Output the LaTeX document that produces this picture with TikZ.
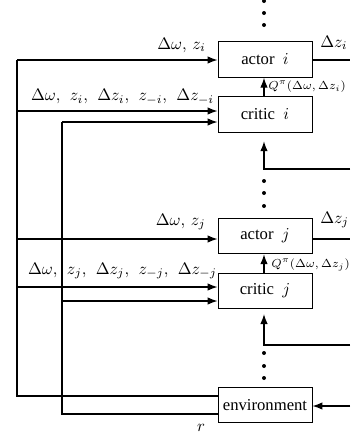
\documentclass[tikz,border=0pt]{standalone}
\usepackage[no-math]{fontspec}
\setmainfont{Liberation Serif}
\usetikzlibrary{arrows.meta}
\newcommand{\gp}{,\hspace{4pt}}
\begin{document}
\begin{tikzpicture}[x=0.6pt,y=-0.6pt,
  box/.style={draw,line width=0.5pt,minimum width=56.4pt,minimum height=21.3pt,inner sep=0pt,font=\fontsize{10}{12}\selectfont},
  conn/.style={line width=0.8pt},
  arr/.style={conn,-{Latex[length=6pt,width=4.5pt]}},
  lbl/.style={inner sep=0pt,font=\fontsize{10.4}{12}\selectfont},
  qlbl/.style={inner sep=0pt,anchor=west,font=\fontsize{7}{9}\selectfont}]
\useasboundingbox (0,0) rectangle (350,435);
% boxes
\node[box] (ai) at (265,59.5) {actor\enspace$i$};
\node[box] (ci) at (265,114.5) {critic\enspace$i$};
\node[box] (aj) at (265,236) {actor\enspace$j$};
\node[box] (cj) at (265,291) {critic\enspace$j$};
\node[box] (env) at (265,405) {environment};
% bus coordinates
\coordinate (L1top) at (17,60);
\coordinate (L1bot) at (17,396);
\coordinate (L2top) at (62,122);
\coordinate (L2bot) at (62,414);
\coordinate (Ri) at (350,60);
\coordinate (Rj) at (350,239);
\coordinate (Fi) at (350,169);
\coordinate (Fj) at (350,345);
\coordinate (Fe) at (350,406);
% left bus 1
\draw[conn] (env.west |- L1bot) -- (L1bot) -- (L1top);
\draw[arr] (L1top) -- (ai.west |- L1top);
\draw[arr] (17,111) -- (ci.west |- 0,111);
\draw[arr] (17,239) -- (aj.west |- 0,239);
\draw[arr] (17,287) -- (cj.west |- 0,287);
% left bus 2
\draw[conn] (env.west |- L2bot) -- (L2bot) -- (L2top);
\draw[arr] (L2top) -- (ci.west |- L2top);
\draw[arr] (62,301) -- (cj.west |- 0,301);
% actor outputs
\draw[conn] (ai.east |- Ri) -- (Ri);
\draw[conn] (aj.east |- Rj) -- (Rj);
% Q arrows
\draw[arr] (ci.north -| 264,0) -- (ai.south -| 264,0);
\draw[arr] (cj.north -| 264,0) -- (aj.south -| 264,0);
% feedback from right
\draw[arr,shorten >=5.5pt] (Fi) -- (264,169) -- (264,132);
\draw[arr,shorten >=3pt] (Fj) -- (264,345) -- (264,309);
\draw[arr] (Fe) -- (env.east |- Fe);
% dots
\foreach \y in {1,13,25,181,193,206,353,366,378}
  \fill (264,\y) circle (1.2pt);
% labels
\node[lbl,anchor=east] (l1) at (206,45) {$\Delta\omega,\, z_i$};
\node[lbl] (l2) at (122.5,97) {$\Delta\omega\gp z_i\gp \Delta z_i\gp z_{-i}\gp \Delta z_{-i}$};
\node[lbl,anchor=west] (l3) at (320,43) {$\Delta z_i$};
\node[qlbl] (q1) at (268,87) {$Q^{\pi}(\Delta\omega,\Delta z_i)$};
\node[lbl,anchor=east] (l4) at (206,222) {$\Delta\omega,\, z_j$};
\node[lbl] (l5) at (122.5,271) {$\Delta\omega\gp z_j\gp \Delta z_j\gp z_{-j}\gp \Delta z_{-j}$};
\node[lbl,anchor=west] (l6) at (320,220) {$\Delta z_j$};
\node[qlbl] (q2) at (271,265) {$Q^{\pi}(\Delta\omega,\Delta z_j)$};
\node[lbl] (r) at (201,428) {$r$};
\end{tikzpicture}
\end{document}
